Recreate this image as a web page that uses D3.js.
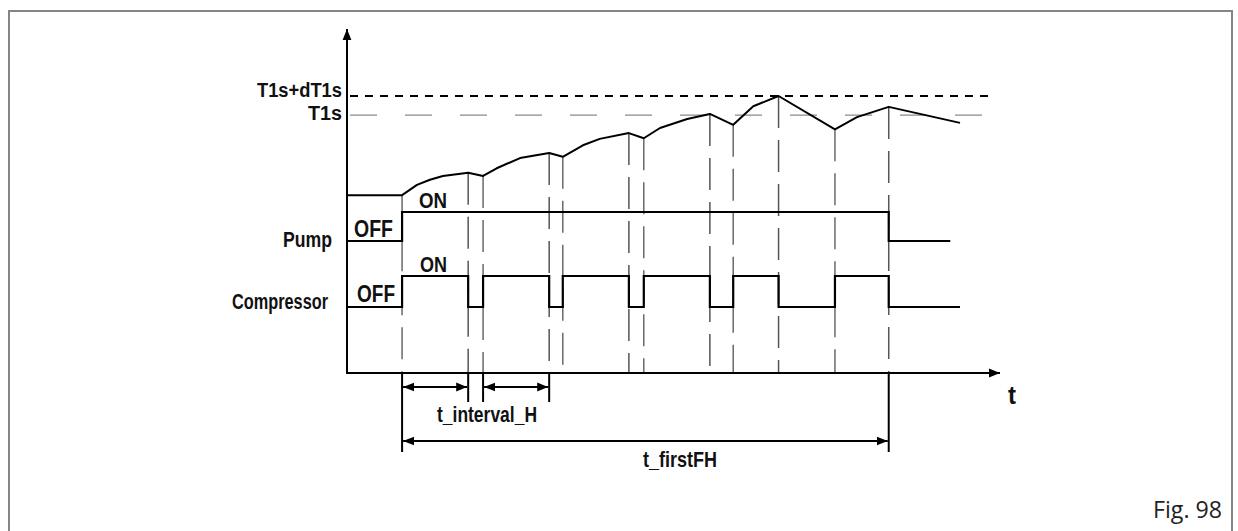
<!DOCTYPE html>
<html>
<head>
<meta charset="utf-8">
<script src="https://cdn.jsdelivr.net/npm/d3@7"></script>
<style>
  body { margin: 0; background: #fff; }
  svg { display: block; }
  .lbl { font-family: "Liberation Sans Narrow", "Arial Narrow", "Liberation Sans", Arial, sans-serif; font-weight: bold; fill: #111; }
</style>
</head>
<body>
<div id="chart"></div>
<script>
// temperature curve (time in arbitrary units 0-100, temperature in arbitrary units)
const tempT = [0, 8.5, 10.8, 12.8, 14.8, 18.7, 21.0, 23.1, 26.7, 31.2, 33.3, 36.4, 39.0, 43.5, 45.8, 48.3, 52.5, 56.0, 59.6, 62.7, 66.6, 75.3, 78.7, 83.6, 94.6]
const tempV = [27.5, 27.5, 29.1, 29.9, 30.5, 31.0, 30.5, 31.7, 33.3, 34.1, 33.5, 35.3, 36.3, 37.2, 36.4, 38.0, 39.4, 40.2, 38.5, 41.4, 43.0, 37.8, 39.7, 41.3, 38.8]

// set points
const T1s = 40
const dT1s = 3

// pump and compressor states (0 = OFF, 1 = ON)
const pumpT = [0, 8.5, 83.6, 93.1]
const pumpS = [0, 1, 0, 0]
const compT = [0, 8.5, 18.7, 21.0, 31.2, 33.3, 43.5, 45.8, 56.0, 59.6, 66.6, 75.3, 83.6, 94.6]
const compS = [0, 1, 0, 1, 0, 1, 0, 1, 0, 1, 0, 1, 0, 0]

// switching moments (guide lines)
const switchT = [8.5, 18.7, 21.0, 31.2, 33.3, 43.5, 45.8, 56.0, 59.6, 66.6, 75.3, 83.6]

// dimension arrows
const intervalH = [[8.5, 18.7], [21.0, 31.2]]
const firstFH = [8.5, 83.6]

const rowLabels = ['Pump', 'Compressor']
const levelLabels = ['T1s+dT1s', 'T1s']

const width = 1238
const height = 531

const svg = d3.select('#chart')
    .append('svg')
    .attr('width', width)
    .attr('height', height)

svg.append('rect').attr('width', width).attr('height', height).attr('fill', '#fff')

// frame
svg.append('path')
    .attr('d', 'M9,540 V11 H1232 V540')
    .attr('fill', 'none')
    .attr('stroke', '#858585')
    .attr('stroke-width', 2)

const defs = svg.append('defs')
defs.append('marker')
    .attr('id', 'ah')
    .attr('viewBox', '0 0 10 10')
    .attr('refX', 10).attr('refY', 5)
    .attr('markerWidth', 11).attr('markerHeight', 11)
    .attr('markerUnits', 'userSpaceOnUse')
    .attr('orient', 'auto-start-reverse')
    .append('path')
    .attr('d', 'M0,1 L10,5 L0,9 Z')
    .attr('fill', '#000')

// scales
const x = d3.scaleLinear().domain([0, 100]).range([347, 995])
const y = d3.scaleLinear().domain([-0.3, T1s + dT1s]).range([373, 96])
const yPump = d3.scaleLinear().domain([0, 1]).range([241, 212])
const yComp = d3.scaleLinear().domain([0, 1]).range([307, 276])

const tempData = tempT.map((t, i) => ({ t, v: tempV[i] }))
const tempAt = t => {
    const i = d3.bisector(d => d.t).left(tempData, t)
    const a = tempData[Math.max(0, i - 1)], b = tempData[Math.min(tempData.length - 1, i)]
    if (b.t === a.t) return b.v
    return a.v + (b.v - a.v) * (t - a.t) / (b.t - a.t)
}

// threshold lines
svg.append('line')
    .attr('x1', x(0) + 3).attr('x2', x(100))
    .attr('y1', y(T1s + dT1s)).attr('y2', y(T1s + dT1s))
    .attr('stroke', '#000').attr('stroke-width', 2)
    .attr('stroke-dasharray', '8,7')
svg.append('line')
    .attr('x1', x(0) + 3).attr('x2', x(101.6))
    .attr('y1', y(T1s)).attr('y2', y(T1s))
    .attr('stroke', '#8a8a8a').attr('stroke-width', 1.3)
    .attr('stroke-dasharray', '27,28')

// guide lines from curve down to axis
svg.append('g')
    .selectAll('line')
    .data(switchT)
    .join('line')
    .attr('x1', d => x(d)).attr('x2', d => x(d))
    .attr('y1', d => y(tempAt(d))).attr('y2', y(-0.3))
    .attr('stroke', (d, i) => i % 2 ? '#555' : '#6a6a6a')
    .attr('stroke-width', 1.5)
    .attr('stroke-dasharray', '32,12')

// extension lines below axis
const ext = [[8.5, 452], [18.7, 402], [21.0, 402], [31.2, 402], [83.6, 452]]
svg.append('g')
    .selectAll('line')
    .data(ext)
    .join('line')
    .attr('x1', d => x(d[0])).attr('x2', d => x(d[0]))
    .attr('y1', y(-0.3)).attr('y2', d => d[1])
    .attr('stroke', '#000').attr('stroke-width', 2)

// temperature curve
svg.append('path')
    .datum(tempData)
    .attr('fill', 'none')
    .attr('stroke', '#000')
    .attr('stroke-width', 2)
    .attr('stroke-linejoin', 'round')
    .attr('d', d3.line().x(d => x(d.t)).y(d => y(d.v)))

// pump and compressor
const step = (ys) => d3.line().curve(d3.curveStepAfter).x(d => x(d.t)).y(d => ys(d.s))
svg.append('path')
    .datum(pumpT.map((t, i) => ({ t, s: pumpS[i] })))
    .attr('fill', 'none').attr('stroke', '#000').attr('stroke-width', 2.2)
    .attr('d', step(yPump))
svg.append('path')
    .datum(compT.map((t, i) => ({ t, s: compS[i] })))
    .attr('fill', 'none').attr('stroke', '#000').attr('stroke-width', 2.2)
    .attr('d', step(yComp))

// axes
svg.append('line')
    .attr('x1', x(0)).attr('x2', x(0))
    .attr('y1', y(-0.3) + 1).attr('y2', 29)
    .attr('stroke', '#000').attr('stroke-width', 2)
    .attr('marker-end', 'url(#ah)')
svg.append('line')
    .attr('x1', x(0) - 1).attr('x2', 1000)
    .attr('y1', y(-0.3)).attr('y2', y(-0.3))
    .attr('stroke', '#000').attr('stroke-width', 2)
    .attr('marker-end', 'url(#ah)')

// dimension arrows
svg.append('g')
    .selectAll('line')
    .data(intervalH)
    .join('line')
    .attr('x1', d => x(d[0]) + 1).attr('x2', d => x(d[1]) - 1)
    .attr('y1', 387).attr('y2', 387)
    .attr('stroke', '#000').attr('stroke-width', 2)
    .attr('marker-start', 'url(#ah)')
    .attr('marker-end', 'url(#ah)')
svg.append('line')
    .attr('x1', x(firstFH[0]) + 1).attr('x2', x(firstFH[1]) - 1)
    .attr('y1', 441).attr('y2', 441)
    .attr('stroke', '#000').attr('stroke-width', 2)
    .attr('marker-start', 'url(#ah)')
    .attr('marker-end', 'url(#ah)')

// text
const txt = (s, px, py, size, len, anchor) => svg.append('text')
    .attr('class', 'lbl')
    .attr('x', px).attr('y', py)
    .attr('font-size', size)
    .attr('text-anchor', anchor || 'start')
    .attr('textLength', len)
    .attr('lengthAdjust', 'spacingAndGlyphs')
    .text(s)

txt(levelLabels[0], 342, y(T1s + dT1s) + 1, 20, 85, 'end')
txt(levelLabels[1], 342, y(T1s) + 5, 20, 34, 'end')
txt(rowLabels[0], 332, yPump(0) + 6, 22, 49, 'end')
txt(rowLabels[1], 328, yComp(0) + 2, 22, 96, 'end')
txt('OFF', 354, yPump(0) - 4, 23, 39)
txt('OFF', 357, yComp(0) - 5, 23, 38)
txt('ON', 419, yPump(1) - 4, 22, 28)
txt('ON', 420, yComp(1) - 4, 22, 27)
txt('t', 1008, 404, 25, 8)
txt('t_interval_H', 437, 422, 22, 100)
txt('t_firstFH', 643, 467, 22, 74)

svg.append('text')
    .attr('x', 1153).attr('y', 518)
    .attr('font-family', '"Open Sans", "Noto Sans", sans-serif')
    .attr('font-size', 23)
    .attr('fill', '#222')
    .attr('textLength', 69)
    .attr('lengthAdjust', 'spacingAndGlyphs')
    .text('Fig. 98')
</script>
</body>
</html>
